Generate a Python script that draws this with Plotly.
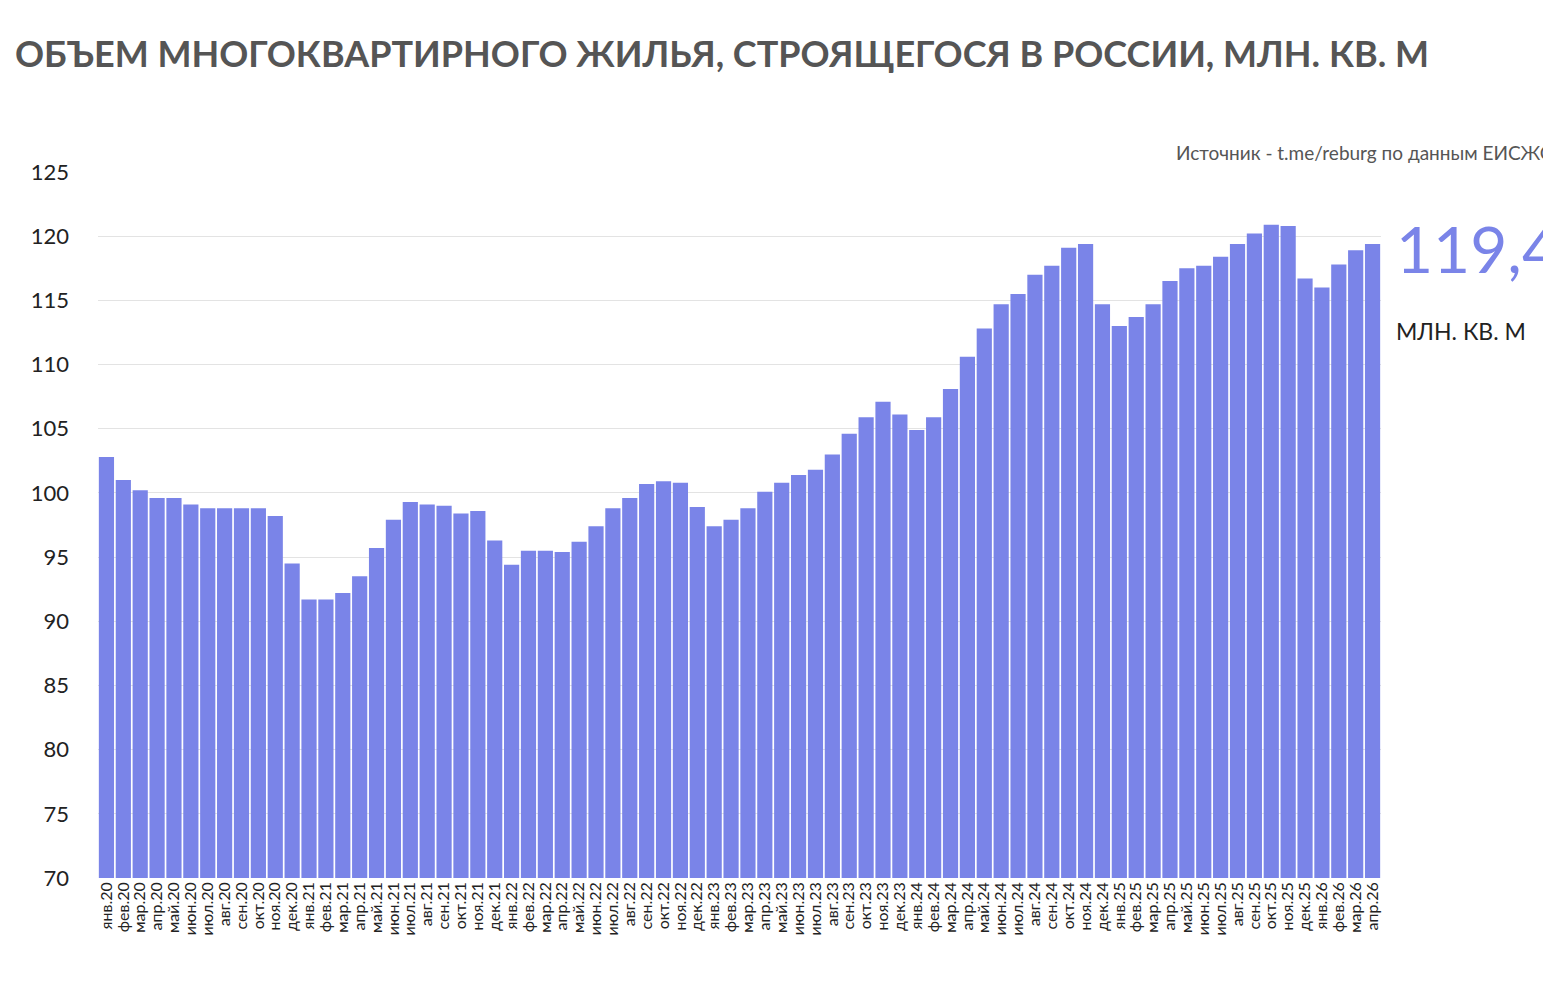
import plotly.graph_objects as go

months = ["янв.", "фев.", "мар.", "апр.", "май.", "июн.", "июл.", "авг.", "сен.", "окт.", "ноя.", "дек."]
labels = [m + str(y) for y in range(20, 27) for m in months][:76]
values = [102.8, 101.0, 100.2, 99.6, 99.6, 99.1, 98.8, 98.8, 98.8, 98.8, 98.2, 94.5,
          91.7, 91.7, 92.2, 93.5, 95.7, 97.9, 99.3, 99.1, 99.0, 98.4, 98.6, 96.3,
          94.4, 95.5, 95.5, 95.4, 96.2, 97.4, 98.8, 99.6, 100.7, 100.9, 100.8, 98.9,
          97.4, 97.9, 98.8, 100.1, 100.8, 101.4, 101.8, 103.0, 104.6, 105.9, 107.1, 106.1,
          104.9, 105.9, 108.1, 110.6, 112.8, 114.7, 115.5, 117.0, 117.7, 119.1, 119.4, 114.7,
          113.0, 113.7, 114.7, 116.5, 117.5, 117.7, 118.4, 119.4, 120.2, 120.9, 120.8, 116.7,
          116.0, 117.8, 118.9, 119.4]
yticks = list(range(70, 126, 5))

fig = go.Figure(go.Bar(x=labels, y=values, marker_color="#7a84e8", marker_line_width=0))
fig.update_layout(
    width=1551, height=994, plot_bgcolor="white", paper_bgcolor="white",
    margin=dict(l=90, r=178, t=164, b=124, autoexpand=False), bargap=0.1, showlegend=False,
    font=dict(family="Lato, Open Sans, sans-serif", color="#222"),
    yaxis=dict(range=[70, 125], tickvals=yticks, gridcolor="#e3e3e3", showline=False,
               zeroline=False, tickfont=dict(size=22), ticks="", ticklabelstandoff=28),
    xaxis=dict(tickangle=-90, tickfont=dict(size=16), showline=False, ticks="",
               tickmode="array", tickvals=labels, ticktext=labels),
)
fig.add_annotation(text="<b>ОБЪЕМ МНОГОКВАРТИРНОГО ЖИЛЬЯ, СТРОЯЩЕГОСЯ В РОССИИ, МЛН. КВ. М</b>",
                   xref="paper", yref="paper", x=-0.066, y=1.168, xanchor="left", yanchor="middle",
                   showarrow=False, font=dict(size=36, color="#555"))
fig.add_annotation(text="Источник - t.me/reburg по данным ЕИСЖС", xref="paper", yref="paper",
                   x=1.136, y=1.027, xanchor="right", yanchor="middle", showarrow=False,
                   font=dict(size=19, color="#555"))
fig.add_annotation(text=f"{values[-1]:.1f}".replace(".", ","), xref="paper", yref="paper",
                   x=1.01, y=0.892, xanchor="left", yanchor="middle", showarrow=False,
                   font=dict(size=64, color="#7a84e8"))
fig.add_annotation(text="МЛН. КВ. М", xref="paper", yref="paper",
                   x=1.01, y=0.775, xanchor="left", yanchor="middle", showarrow=False,
                   font=dict(size=23, color="#222"))
fig.write_html("out.html")
